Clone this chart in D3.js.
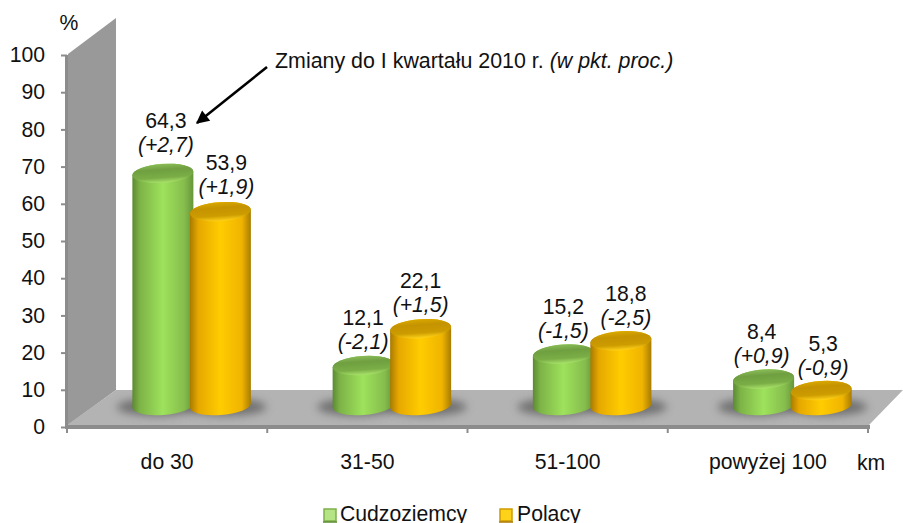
<!DOCTYPE html>
<html>
<head>
<meta charset="utf-8">
<script src="https://cdn.jsdelivr.net/npm/d3@7"></script>
<style>
  html, body { margin: 0; padding: 0; background: #fff; overflow: hidden; }
  text { font-family: "Liberation Sans", Arial, sans-serif; font-size: 21.2px; fill: #111; }
  .domain { display: none; }
</style>
</head>
<body>
<div id="chart"></div>
<script>
var categories = ["do 30", "31-50", "51-100", "powyżej 100"];
var cudzoziemcy = [64.3, 12.1, 15.2, 8.4];
var polacy = [53.9, 22.1, 18.8, 5.3];
var zmianyCudzoziemcy = ["(+2,7)", "(-2,1)", "(-1,5)", "(+0,9)"];
var zmianyPolacy = ["(+1,9)", "(+1,5)", "(-2,5)", "(-0,9)"];
var seriesNames = ["Cudzoziemcy", "Polacy"];
var yTicks = [0, 10, 20, 30, 40, 50, 60, 70, 80, 90, 100];

var width = 903, height = 523;
var svg = d3.select("#chart").append("svg").attr("width", width).attr("height", height);
var defs = svg.append("defs");

// axis scales
var y = d3.scaleLinear().domain([0, 100]).range([427, 55]);
var x = d3.scaleBand().domain(categories).range([67, 868]);
// the cylinders sit deeper in the 3D box, so they get their own height scale
var yBar = d3.scaleLinear().domain([0, 100]).range([410, 42]);
var baseY = 405.5, depth = 24.5, barR = 30.5, ry = 9.5, barStep = 57.5;

function gradient(id, stops, vertical) {
    var g = defs.append("linearGradient").attr("id", id)
        .attr("x1", 0).attr("y1", 0).attr("x2", vertical ? 0 : 1).attr("y2", vertical ? 1 : 0);
    stops.forEach(function (s) {
        g.append("stop").attr("offset", s[0]).attr("stop-color", s[1]);
    });
}
gradient("sideGreen", [[0, "#5c8a32"], [0.12, "#7db347"], [0.5, "#9ee25c"], [0.85, "#86bd4d"], [1, "#66963a"]]);
gradient("sideOrange", [[0, "#a87a00"], [0.14, "#e6a800"], [0.5, "#ffcc00"], [0.85, "#f0b400"], [1, "#a87c00"]]);
gradient("topGreen", [[0, "#8abb58"], [0.3, "#6f9f40"], [0.72, "#7aad46"], [1, "#a9e26a"]], true);
gradient("topOrange", [[0, "#d9a800"], [0.3, "#c49300"], [0.72, "#cd9c00"], [1, "#ffd21a"]], true);

var blur = defs.append("filter").attr("id", "blur")
    .attr("x", "-30%").attr("y", "-60%").attr("width", "160%").attr("height", "220%");
blur.append("feGaussianBlur").attr("stdDeviation", 4);

defs.append("marker").attr("id", "arrow")
    .attr("viewBox", "0 0 10 10").attr("refX", 9).attr("refY", 5)
    .attr("markerWidth", 6).attr("markerHeight", 5).attr("orient", "auto")
    .append("path").attr("d", "M0,0L10,5L0,10Z").attr("fill", "#000");

// back wall and floor
svg.append("polygon").attr("points", "68,54 116,18 116,390 68,425").attr("fill", "#999999");
svg.append("polygon").attr("points", "67,425 116,390 903,390 869,425").attr("fill", "#b3b3b3");
svg.append("rect").attr("x", 65).attr("y", 55).attr("width", 3).attr("height", 374).attr("fill", "#8c8c8c");
svg.append("rect").attr("x", 65).attr("y", 425).attr("width", 805).attr("height", 4).attr("fill", "#8c8c8c");

// y axis
var yAxis = svg.append("g").attr("transform", "translate(67,0)")
    .call(d3.axisLeft(y).tickValues(yTicks).tickSize(6).tickPadding(16));
yAxis.selectAll("line").attr("stroke", "#8c8c8c").attr("stroke-width", 2);
yAxis.selectAll("text").style("font-size", "21.2px").attr("fill", "#111");

// x axis, ticks go between the categories
var xAxis = svg.append("g").attr("transform", "translate(0,429)")
    .call(d3.axisBottom(x).tickSize(0).tickPadding(25));
xAxis.selectAll("text").style("font-size", "21.2px").attr("fill", "#111");
svg.append("g").selectAll("line")
    .data(categories.concat([null]))
    .enter().append("line")
    .attr("x1", function (d, i) { return x.range()[0] + i * x.step(); })
    .attr("x2", function (d, i) { return x.range()[0] + i * x.step(); })
    .attr("y1", 429).attr("y2", 433)
    .attr("stroke", "#8c8c8c").attr("stroke-width", 2);

svg.append("text").attr("x", 69).attr("y", 30).attr("text-anchor", "middle").text("%");
svg.append("text").attr("x", 871).attr("y", 470).attr("text-anchor", "middle").text("km");

function barCenter(i, s) {
    return x(categories[i]) + x.bandwidth() / 2 + depth + (s === 0 ? -barStep / 2 : barStep / 2);
}

function sidePath(cx, top) {
    return "M" + (cx - barR) + "," + (top + 2) +
        "L" + (cx - barR) + "," + (baseY + 2) +
        "A" + barR + "," + ry + " -4 0 0 " + (cx + barR) + "," + (baseY - 2) +
        "L" + (cx + barR) + "," + (top - 2) +
        "A" + barR + "," + ry + " -4 0 0 " + (cx - barR) + "," + (top + 2) + "Z";
}

var series = [
    { values: cudzoziemcy, changes: zmianyCudzoziemcy, side: "url(#sideGreen)", top: "url(#topGreen)" },
    { values: polacy, changes: zmianyPolacy, side: "url(#sideOrange)", top: "url(#topOrange)" }
];

// shadows first, so no bar is covered by its neighbour's shadow
series.forEach(function (ser, s) {
    svg.append("g").selectAll("ellipse")
        .data(ser.values)
        .enter().append("ellipse")
        .attr("cx", function (d, i) { return barCenter(i, s) + (s === 0 ? -6 : 6); })
        .attr("cy", 407).attr("rx", 40).attr("ry", 9)
        .attr("fill", "#555").attr("opacity", 0.7)
        .attr("filter", "url(#blur)");
});

series.forEach(function (ser, s) {
    var g = svg.append("g").selectAll("g")
        .data(ser.values)
        .enter().append("g");
    g.append("path")
        .attr("d", function (d, i) { return sidePath(barCenter(i, s), yBar(d)); })
        .attr("fill", ser.side);
    g.append("ellipse")
        .attr("rx", barR).attr("ry", ry)
        .attr("transform", function (d, i) {
            return "translate(" + barCenter(i, s) + "," + yBar(d) + ") rotate(-4)";
        })
        .attr("fill", ser.top);
});

// labels were placed by hand in the original, a few sit off the bar centre
var labelNudge = { "0,0": [3, -3.5], "1,0": [6, 0], "1,2": [5, 0], "0,3": [-2, 0], "1,3": [2, 0] };
function nudge(s, i) { return labelNudge[s + "," + i] || [0, 0]; }

series.forEach(function (ser, s) {
    var g = svg.append("g").selectAll("g")
        .data(ser.values)
        .enter().append("g")
        .attr("text-anchor", "middle");
    g.append("text")
        .attr("x", function (d, i) { return barCenter(i, s) + nudge(s, i)[0]; })
        .attr("y", function (d, i) { return y(d) - 56.5 + nudge(s, i)[1]; })
        .text(function (d) { return String(d).replace(".", ","); });
    g.append("text")
        .attr("x", function (d, i) { return barCenter(i, s) + nudge(s, i)[0]; })
        .attr("y", function (d, i) { return y(d) - 32.5 + nudge(s, i)[1]; })
        .style("font-style", "italic")
        .text(function (d, i) { return ser.changes[i]; });
});

// annotation
svg.append("line").attr("x1", 267).attr("y1", 67).attr("x2", 197).attr("y2", 123)
    .attr("stroke", "#000").attr("stroke-width", 2.6).attr("marker-end", "url(#arrow)");
var note = svg.append("text").attr("x", 275).attr("y", 68).style("font-size", "21.4px");
note.append("tspan").text("Zmiany do I kwartału 2010 r. ");
note.append("tspan").style("font-style", "italic").text("(w pkt. proc.)");

// legend, the marker is a small bevelled square
var legendX = [324, 500], legendTextX = [340, 517];
var legendFill = ["#b4e484", "#ffd21a"], legendEdge = ["#7fb04a", "#d09c00"], legendLine = ["#5c8a32", "#a87a00"];
var legend = svg.append("g").selectAll("g")
    .data(seriesNames)
    .enter().append("g");
legend.append("rect")
    .attr("x", function (d, i) { return legendX[i]; }).attr("y", 509)
    .attr("width", 12).attr("height", 12)
    .attr("fill", function (d, i) { return legendFill[i]; })
    .attr("stroke", function (d, i) { return legendEdge[i]; }).attr("stroke-width", 1.5);
legend.append("line")
    .attr("x1", function (d, i) { return legendX[i] - 1; })
    .attr("x2", function (d, i) { return legendX[i] + 13; })
    .attr("y1", 522).attr("y2", 522)
    .attr("stroke", function (d, i) { return legendLine[i]; }).attr("stroke-width", 1.5);
legend.append("text")
    .attr("x", function (d, i) { return legendTextX[i]; }).attr("y", 521)
    .text(function (d) { return d; });
</script>
</body>
</html>
